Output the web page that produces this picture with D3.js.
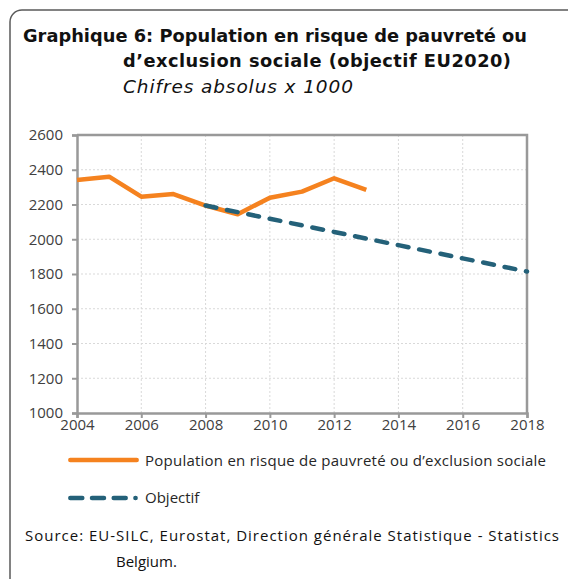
<!DOCTYPE html>
<meta charset="utf-8">
<script src="https://d3js.org/d3.v7.min.js"></script>
<style>
  body { margin: 0; background: #fff; }
  text { font-family: "Open Sans", sans-serif; }
</style>
<div id="chart"></div>
<script>
  // data (x 1000)
  const years = [2004, 2005, 2006, 2007, 2008, 2009, 2010, 2011, 2012, 2013];
  const population = [2341, 2360, 2245, 2260, 2194, 2144, 2239, 2274, 2351, 2284];
  const targetYears = [2008, 2009, 2010, 2011, 2012, 2013, 2014, 2015, 2016, 2017, 2018];
  const target = [2194, 2156, 2118, 2080, 2042, 2004, 1966, 1928, 1890, 1852, 1814];
  const xTicks = [2004, 2006, 2008, 2010, 2012, 2014, 2016, 2018];
  const yTicks = [1000, 1200, 1400, 1600, 1800, 2000, 2200, 2400, 2600];
  const seriesNames = ["Population en risque de pauvreté ou d\u2019exclusion sociale", "Objectif"];

  var W = 568, H = 579;
  var orange = "#f5821f", teal = "#246179";
  var svg = d3.select("#chart").append("svg")
    .attr("width", W).attr("height", H);

  // frame
  svg.append("rect")
    .attr("x", 10).attr("y", 10)
    .attr("width", 580).attr("height", 600)
    .attr("rx", 12)
    .attr("fill", "none")
    .attr("stroke", "#5a5a5a")
    .attr("stroke-width", 1.5);

  // titles
  var title = svg.append("g").attr("fill", "#111");
  title.append("text").attr("x", 23).attr("y", 42)
    .attr("font-weight", "bold").attr("font-size", 17.8)
    .attr("textLength", 504).attr("lengthAdjust", "spacing")
    .style("font-family", "DejaVu Sans, sans-serif")
    .text("Graphique 6: Population en risque de pauvreté ou");
  title.append("text").attr("x", 123).attr("y", 67)
    .attr("font-weight", "bold").attr("font-size", 17.8)
    .attr("textLength", 388).attr("lengthAdjust", "spacing")
    .style("font-family", "DejaVu Sans, sans-serif")
    .text("d\u2019exclusion sociale (objectif EU2020)");
  title.append("text").attr("x", 123).attr("y", 93)
    .attr("font-style", "italic").attr("font-size", 18.5)
    .attr("textLength", 230).attr("lengthAdjust", "spacing")
    .style("font-family", "DejaVu Sans, sans-serif")
    .text("Chifres absolus x 1000");

  var x = d3.scaleLinear().domain([2004, 2018]).range([77, 527]);
  var y = d3.scaleLinear().domain([1000, 2600]).range([413, 135]);

  // grid
  svg.append("g").selectAll("line")
    .data(yTicks.slice(1, -1)).enter().append("line")
      .attr("x1", x(2004)).attr("x2", x(2018))
      .attr("y1", d => y(d)).attr("y2", d => y(d))
      .attr("stroke", "#d9d9d9").attr("stroke-dasharray", "2,2");
  svg.append("g").selectAll("line")
    .data(xTicks.slice(1, -1)).enter().append("line")
      .attr("x1", d => x(d)).attr("x2", d => x(d))
      .attr("y1", y(1000)).attr("y2", y(2600))
      .attr("stroke", "#d9d9d9").attr("stroke-dasharray", "2,2");

  // axes
  var yAxis = svg.append("g")
    .attr("transform", "translate(" + x(2004) + ",0)")
    .call(d3.axisLeft(y).tickValues(yTicks).tickSize(5).tickPadding(9).tickFormat(d3.format("d")));
  var xAxis = svg.append("g")
    .attr("transform", "translate(0," + y(1000) + ")")
    .call(d3.axisBottom(x).tickValues(xTicks).tickSize(5).tickPadding(1).tickFormat(d3.format("d")));
  [xAxis, yAxis].forEach(function(a) {
    a.select(".domain").attr("stroke", "#999").attr("stroke-width", 2.5);
    a.selectAll(".tick line").attr("stroke", "#999").attr("stroke-width", 2);
    a.selectAll("text").attr("font-size", 15).attr("fill", "#404040")
      .style("font-family", "Open Sans, sans-serif");
  });
  // top and right border of plot
  svg.append("path")
    .attr("d", "M" + x(2004) + "," + y(2600) + "H" + x(2018) + "V" + y(1000))
    .attr("fill", "none").attr("stroke", "#999").attr("stroke-width", 2.5);

  var line = d3.line().x(d => x(d[0])).y(d => y(d[1]));

  svg.append("path")
    .datum(years.map((yr, i) => [yr, population[i]]))
    .attr("d", line)
    .attr("fill", "none").attr("stroke", orange)
    .attr("stroke-width", 4.5).attr("stroke-linejoin", "round");

  var tPath = svg.append("path")
    .datum(targetYears.map((yr, i) => [yr, target[i]]))
    .attr("d", line)
    .attr("fill", "none").attr("stroke", teal)
    .attr("stroke-width", 4.5).attr("stroke-linecap", "round");
  // a bit over 15 periods so the line ends on a small dot, as in the original
  var period = tPath.node().getTotalLength() / 15.05;
  tPath.attr("stroke-dasharray", (period * 0.5) + "," + (period * 0.5));

  // legend
  var lg = svg.append("g");
  lg.append("line").attr("x1", 70.3).attr("x2", 136.7).attr("y1", 460).attr("y2", 460)
    .attr("stroke", orange).attr("stroke-width", 4.5).attr("stroke-linecap", "round");
  lg.append("text").attr("x", 145).attr("y", 466).attr("font-size", 15).attr("fill", "#262626")
    .attr("textLength", 401).attr("lengthAdjust", "spacing")
    .text(seriesNames[0]);
  lg.append("line").attr("x1", 70.3).attr("x2", 135.6).attr("y1", 498).attr("y2", 498)
    .attr("stroke", teal).attr("stroke-width", 4.5).attr("stroke-linecap", "round")
    .attr("stroke-dasharray", "12,9.7");
  lg.append("text").attr("x", 145).attr("y", 503).attr("font-size", 15).attr("fill", "#262626")
    .text(seriesNames[1]);

  // source
  svg.append("text").attr("x", 25).attr("y", 541).attr("font-size", 15).attr("fill", "#111")
    .attr("textLength", 534).attr("lengthAdjust", "spacing")
    .text("Source: EU-SILC, Eurostat, Direction générale Statistique - Statistics");
  svg.append("text").attr("x", 116).attr("y", 567).attr("font-size", 15).attr("fill", "#111")
    .text("Belgium.");
</script>
